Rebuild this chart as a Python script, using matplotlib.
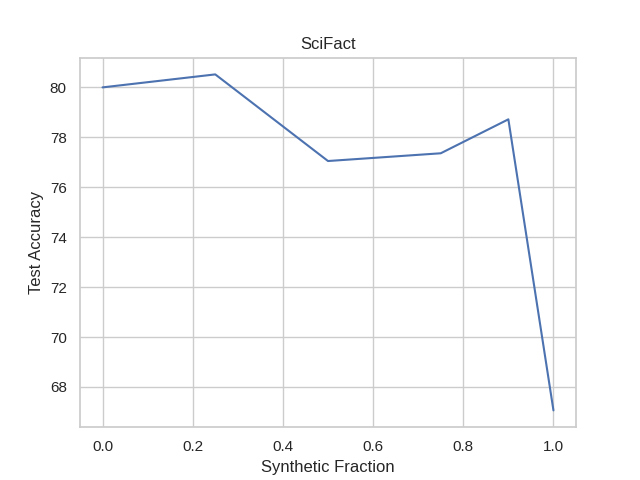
import matplotlib
matplotlib.use("Agg")
import matplotlib.pyplot as plt
import seaborn as sns

synthetic_fraction = [0.0, 0.25, 0.5, 0.75, 0.9, 1.0]
test_accuracy = [80.0, 80.52, 77.05, 77.36, 78.72, 67.06]

sns.set_theme(style="whitegrid")
plt.rcParams['font.family'] = ['Liberation Sans', 'DejaVu Sans']
fig, ax = plt.subplots(figsize=(6.4, 4.8), dpi=100)
ax.plot(synthetic_fraction, test_accuracy)
ax.set_title("SciFact")
ax.set_xlabel("Synthetic Fraction")
ax.set_ylabel("Test Accuracy")
fig.savefig("out.png")
